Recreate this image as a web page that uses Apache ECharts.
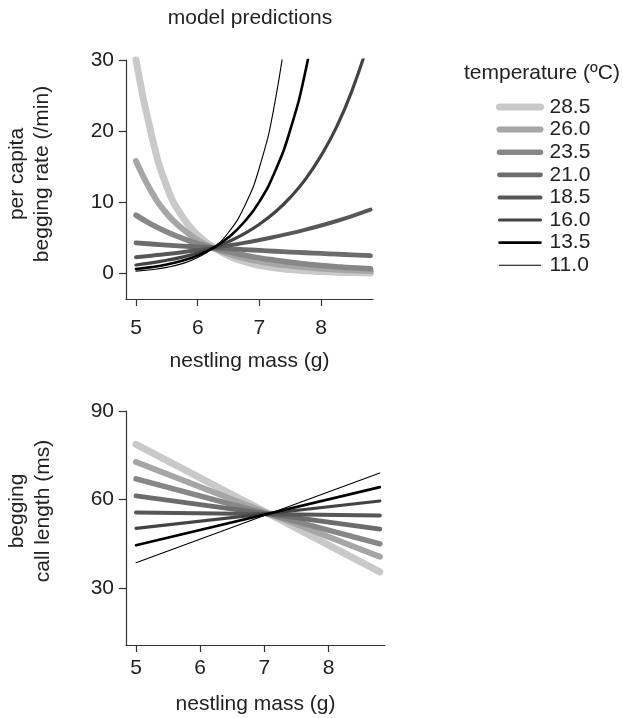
<!DOCTYPE html>
<html>
<head>
<meta charset="utf-8">
<script src="https://cdn.jsdelivr.net/npm/echarts@6/dist/echarts.min.js"></script>
<style>
  html, body { margin: 0; padding: 0; background: #fff; }
  #chart { width: 623px; height: 718px; }
</style>
</head>
<body>
<div id="chart"></div>
<script>
// temperatures (legend order)
var temps = ['28.5', '26.0', '23.5', '21.0', '18.5', '16.0', '13.5', '11.0'];

// top panel: per capita begging rate (/min)
var massTop = [5, 5.25, 5.5, 5.75, 6, 6.25, 6.5, 6.75, 7, 7.25, 7.5, 7.75, 8, 8.25, 8.5, 8.8];
var rate285 = [30, 19.5, 12.2, 8.0, 5.4, 3.7, 2.5, 1.7, 1.15, 0.8, 0.55, 0.38, 0.27, 0.19, 0.13, 0.08];
var rate260 = [15.8, 11.5, 8.4, 6.3, 4.7, 3.6, 2.75, 2.15, 1.7, 1.35, 1.1, 0.88, 0.7, 0.56, 0.45, 0.35];
var rate235 = [8.2, 6.9, 5.85, 4.95, 4.2, 3.6, 3.05, 2.6, 2.2, 1.87, 1.57, 1.33, 1.13, 0.96, 0.81, 0.67];
var rate210 = [4.3, 4.15, 4.0, 3.86, 3.73, 3.6, 3.48, 3.36, 3.25, 3.13, 3.02, 2.92, 2.82, 2.72, 2.62, 2.5];
var rate185 = [2.3, 2.51, 2.74, 3.0, 3.29, 3.6, 3.94, 4.31, 4.72, 5.16, 5.64, 6.17, 6.75, 7.38, 8.07, 8.97];
var rate160 = [1.2, 1.49, 1.86, 2.31, 2.89, 3.6, 4.48, 5.58, 6.93, 8.6, 10.7, 13.3, 16.6, 20.6, 25.7, 33.4];
var rate135 = [0.64, 0.9, 1.27, 1.8, 2.54, 3.6, 5.08, 7.2, 10.1, 14.3, 20.2, 28.6, 40.4, null, null, null];
var rate110 = [0.34, 0.54, 0.86, 1.39, 2.24, 3.6, 5.8, 9.3, 14.9, 24, 38.6, null, null, null, null, null];

// bottom panel: begging call length (ms), straight lines
var massBottom = [5, 8.8];
var call285 = [78.7, 35.5];
var call260 = [72.7, 40.6];
var call235 = [67.0, 45.0];
var call210 = [61.2, 50.0];
var call185 = [55.6, 54.6];
var call160 = [50.2, 59.5];
var call135 = [44.5, 64.2];
var call110 = [38.6, 69.0];

var rateSets = [rate285, rate260, rate235, rate210, rate185, rate160, rate135, rate110];
var callSets = [call285, call260, call235, call210, call185, call160, call135, call110];

var lineColors = ['#c9c9c9', '#a6a6a6', '#878787', '#6c6c6c', '#575757', '#434343', '#000000', '#000000'];
var lineWidths = [7, 6, 5.5, 4.8, 4, 3.2, 2.6, 1.1];

var fontFam = '"Liberation Sans", Arial, Helvetica, sans-serif',
	fs = 21, txtColor = '#222', axColor = '#333';

function pairs(xs, ys) {
	var out = [];
	for (var i = 0; i < xs.length; i++)
		out.push([xs[i], ys[i]]);
	return out;
}

function axisX(idx, min, max, gap, lblMargin) {
	return {
		type: 'value', gridIndex: idx, min: min, max: max,
		name: 'nestling mass (g)', nameLocation: 'middle', nameGap: gap,
		nameTextStyle: { fontSize: fs, color: txtColor, fontFamily: fontFam },
		axisLine: { show: true, onZero: false, lineStyle: { color: axColor, width: 1.2 } },
		axisTick: { show: true, length: 7, customValues: [5, 6, 7, 8], lineStyle: { color: axColor, width: 1.2 } },
		axisLabel: { customValues: [5, 6, 7, 8], margin: lblMargin, fontSize: fs, color: txtColor, fontFamily: fontFam },
		splitLine: { show: false }
	};
}

function axisY(idx, min, max, ticks) {
	return {
		type: 'value', gridIndex: idx, min: min, max: max,
		axisLine: { show: true, onZero: false, lineStyle: { color: axColor, width: 1.2 } },
		axisTick: { show: true, length: 7, customValues: ticks, lineStyle: { color: axColor, width: 1.2 } },
		axisLabel: { customValues: ticks, margin: 12, fontSize: fs, color: txtColor, fontFamily: fontFam },
		splitLine: { show: false }
	};
}

var series = [];
for (var k = 0; k < temps.length; k++) {
	series.push({
		name: temps[k], type: 'line', xAxisIndex: 0, yAxisIndex: 0,
		data: pairs(massTop, rateSets[k]),
		smooth: true, symbol: 'none', showSymbol: false,
		clip: k === 0 ? false : true,
		lineStyle: { color: lineColors[k], width: lineWidths[k], cap: 'round', join: 'round' },
		itemStyle: { color: lineColors[k] },
		emphasis: { disabled: true }
	});
}
for (var k = 0; k < temps.length; k++) {
	series.push({
		name: temps[k], type: 'line', xAxisIndex: 1, yAxisIndex: 1,
		data: pairs(massBottom, callSets[k]),
		symbol: 'none', showSymbol: false, clip: false,
		lineStyle: { color: lineColors[k], width: lineWidths[k], cap: 'round' },
		itemStyle: { color: lineColors[k] },
		emphasis: { disabled: true }
	});
}

var myChart = echarts.init(document.getElementById('chart'), null, { renderer: 'canvas' });
var option = {
	animation: false,
	backgroundColor: '#fff',
	title: [
		{ text: 'model predictions', left: 245, top: 3, textAlign: 'center',
		  textStyle: { fontSize: fs, fontWeight: 'normal', color: txtColor, fontFamily: fontFam } },
		{ text: 'temperature (ºC)', left: 459, top: 58,
		  textStyle: { fontSize: fs, fontWeight: 'normal', color: txtColor, fontFamily: fontFam } }
	],
	legend: {
		orient: 'vertical', left: 491, top: 91.5,
		itemWidth: 41, itemHeight: 14, itemGap: 1.6,
		selectedMode: false,
		data: temps,
		itemStyle: { opacity: 0 },
		lineStyle: { width: 'inherit', cap: 'round' },
		textStyle: { fontSize: fs, lineHeight: 21, color: txtColor, fontFamily: fontFam, padding: [0, 0, 0, 4] }
	},
	grid: [
		{ left: 126, top: 60, width: 247, height: 239 },
		{ left: 126, top: 411, width: 259, height: 234 }
	],
	xAxis: [ axisX(0, 4.838, 8.84, 52, 19), axisX(1, 4.844, 8.88, 49, 13) ],
	yAxis: [ axisY(0, -3.58, 30, [0, 10, 20, 30]), axisY(1, 10.7, 90, [30, 60, 90]) ],
	graphic: [
		{ type: 'text', x: 17, y: 174, rotation: Math.PI / 2,
		  style: { text: 'per capita', fontSize: fs, fill: txtColor, fontFamily: fontFam, align: 'center', verticalAlign: 'middle' } },
		{ type: 'text', x: 42, y: 174, rotation: Math.PI / 2,
		  style: { text: 'begging rate (/min)', fontSize: fs, fill: txtColor, fontFamily: fontFam, align: 'center', verticalAlign: 'middle' } },
		{ type: 'text', x: 17, y: 511, rotation: Math.PI / 2,
		  style: { text: 'begging', fontSize: fs, fill: txtColor, fontFamily: fontFam, align: 'center', verticalAlign: 'middle' } },
		{ type: 'text', x: 43, y: 511, rotation: Math.PI / 2,
		  style: { text: 'call length (ms)', fontSize: fs, fill: txtColor, fontFamily: fontFam, align: 'center', verticalAlign: 'middle' } }
	],
	series: series
};
myChart.setOption(option);
</script>
</body>
</html>
